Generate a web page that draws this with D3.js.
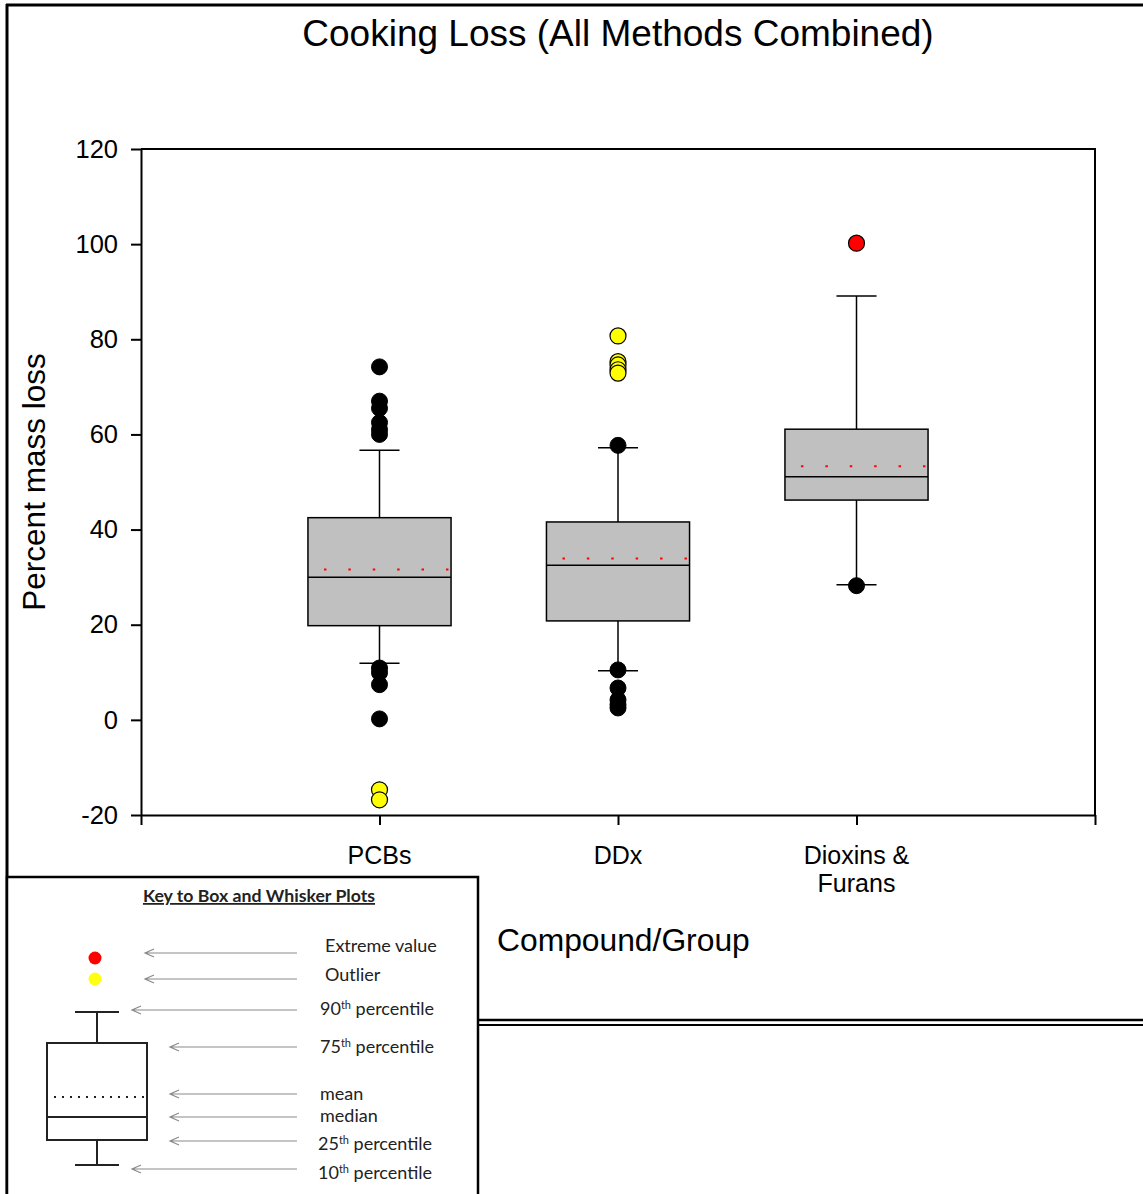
<!DOCTYPE html>
<html>
<head>
<meta charset="utf-8">
<script src="https://cdn.jsdelivr.net/npm/d3@7"></script>
<style>
  body { margin: 0; background: #fff; }
  svg { display: block; font-family: "Liberation Sans", Arial, sans-serif; }
</style>
</head>
<body>
<div id="chart"></div>
<script>
// values
const groups = ["PCBs", "DDx", "Dioxins & Furans"];
const p10 = [11.9, 10.3, 28.4];
const q1 = [19.8, 20.8, 46.2];
const median = [30.0, 32.5, 51.1];
const mean = [31.6, 33.9, 53.3];
const q3 = [42.5, 41.6, 61.1];
const p90 = [56.7, 57.2, 89.1];
// points beyond the whiskers
const beyond = [
  [74.2, 67.0, 65.5, 62.5, 61.0, 60.0, 10.9, 9.9, 7.4, 0.2],
  [57.7, 10.5, 6.7, 4.2, 3.2, 2.5],
  [28.2]
];
const outliers = [
  [-14.7, -16.8],
  [80.7, 75.3, 74.6, 73.6, 72.9],
  []
];
const extremes = [[], [], [100.2]];
const yTicks = [-20, 0, 20, 40, 60, 80, 100, 120];

const keyLabels = [
  ["Extreme value", ""],
  ["Outlier", ""],
  ["90", "th percentile"],
  ["75", "th percentile"],
  ["mean", ""],
  ["median", ""],
  ["25", "th percentile"],
  ["10", "th percentile"]
];

const width = 1143, height = 1194;
const margin = { left: 141, right: 48, top: 149, bottom: 379 };

const svg = d3.select("#chart").append("svg")
  .attr("width", width)
  .attr("height", height);

svg.append("rect").attr("width", width).attr("height", height).attr("fill", "#fff");

const x = d3.scaleLinear().domain([0, 4]).range([margin.left, width - margin.right]);
const y = d3.scaleLinear().domain([-20, 120]).range([height - margin.bottom, margin.top]);

// outer frame
svg.append("line").attr("x1", 6).attr("x2", width).attr("y1", 5).attr("y2", 5)
  .attr("stroke", "#000").attr("stroke-width", 3);
svg.append("line").attr("x1", 7).attr("x2", 7).attr("y1", 4).attr("y2", height)
  .attr("stroke", "#000").attr("stroke-width", 3);
svg.append("line").attr("x1", 477).attr("x2", width).attr("y1", 1020).attr("y2", 1020)
  .attr("stroke", "#000").attr("stroke-width", 2.5);
svg.append("line").attr("x1", 477).attr("x2", width).attr("y1", 1025).attr("y2", 1025)
  .attr("stroke", "#000").attr("stroke-width", 2);

// title
svg.append("text")
  .attr("x", 618).attr("y", 46)
  .attr("text-anchor", "middle")
  .attr("font-size", 37)
  .text("Cooking Loss (All Methods Combined)");

// plot frame (top and right)
const x0 = x.range()[0], x1 = x.range()[1];
const yTop = y(120), yBot = y(-20);
svg.append("path")
  .attr("d", `M${x0},${yTop}H${x1}V${yBot}`)
  .attr("fill", "none").attr("stroke", "#000").attr("stroke-width", 2);

// y axis
const yAxis = svg.append("g")
  .attr("transform", `translate(${x0},0)`)
  .call(d3.axisLeft(y).tickValues(yTicks).tickFormat(d => String(d))
    .tickSize(10).tickPadding(13).tickSizeOuter(0));
yAxis.select(".domain").attr("stroke-width", 2);
yAxis.selectAll(".tick line").attr("stroke-width", 2);
yAxis.selectAll("text").attr("font-size", 25.5).attr("font-family", "Liberation Sans, Arial, sans-serif").attr("fill", "#000");

// x axis
const xAxis = svg.append("g")
  .attr("transform", `translate(0,${yBot})`)
  .call(d3.axisBottom(x).tickValues([0, 1, 2, 3, 4]).tickSize(10).tickSizeOuter(0).tickFormat(""));
xAxis.select(".domain").attr("stroke-width", 2);
xAxis.selectAll(".tick line").attr("stroke-width", 2);

// category labels
const catLabels = svg.append("g").attr("font-size", 25).attr("text-anchor", "middle");
groups.forEach((g, i) => {
  const lines = g === "Dioxins & Furans" ? ["Dioxins &", "Furans"] : [g];
  const t = catLabels.append("text").attr("x", x(i + 1)).attr("y", yBot + 49);
  lines.forEach((l, j) => {
    t.append("tspan").attr("x", x(i + 1)).attr("dy", j === 0 ? 0 : 28).text(l);
  });
});

// axis titles
svg.append("text")
  .attr("x", 497).attr("y", 951)
  .attr("font-size", 31.8)
  .text("Compound/Group");

svg.append("text")
  .attr("transform", `translate(45,${(yTop + yBot) / 2}) rotate(-90)`)
  .attr("text-anchor", "middle")
  .attr("font-size", 31.5)
  .text("Percent mass loss");

// boxes
const boxW = x(0.3) - x(0);
const capW = x(0.084) - x(0);
const boxes = svg.append("g");
groups.forEach((g, i) => {
  const cx = x(i + 1);
  const gb = boxes.append("g");
  // whiskers
  gb.append("line").attr("x1", cx).attr("x2", cx).attr("y1", y(p90[i])).attr("y2", y(q3[i]))
    .attr("stroke", "#000").attr("stroke-width", 1.5);
  gb.append("line").attr("x1", cx).attr("x2", cx).attr("y1", y(q1[i])).attr("y2", y(p10[i]))
    .attr("stroke", "#000").attr("stroke-width", 1.5);
  [p90[i], p10[i]].forEach(v => {
    gb.append("line").attr("x1", cx - capW).attr("x2", cx + capW).attr("y1", y(v)).attr("y2", y(v))
      .attr("stroke", "#000").attr("stroke-width", 1.5);
  });
  gb.append("rect")
    .attr("x", cx - boxW).attr("width", boxW * 2)
    .attr("y", y(q3[i])).attr("height", y(q1[i]) - y(q3[i]))
    .attr("fill", "#c0c0c0").attr("stroke", "#000").attr("stroke-width", 1.5);
  gb.append("line").attr("x1", cx - boxW).attr("x2", cx + boxW)
    .attr("y1", y(median[i])).attr("y2", y(median[i]))
    .attr("stroke", "#000").attr("stroke-width", 1.5);
  gb.append("line").attr("x1", cx - boxW + 16).attr("x2", cx + boxW)
    .attr("y1", y(mean[i])).attr("y2", y(mean[i]))
    .attr("stroke", "#ff0000").attr("stroke-width", 2)
    .attr("stroke-dasharray", "2.5 21.9");
});

// points
const pts = svg.append("g");
groups.forEach((g, i) => {
  const cx = x(i + 1);
  pts.selectAll(null).data(beyond[i]).enter().append("circle")
    .attr("cx", cx).attr("cy", d => y(d)).attr("r", 8)
    .attr("fill", "#000").attr("stroke", "#000").attr("stroke-width", 1);
  pts.selectAll(null).data(outliers[i]).enter().append("circle")
    .attr("cx", cx).attr("cy", d => y(d)).attr("r", 8)
    .attr("fill", "#ffff00").attr("stroke", "#000").attr("stroke-width", 1.2);
  pts.selectAll(null).data(extremes[i]).enter().append("circle")
    .attr("cx", cx).attr("cy", d => y(d)).attr("r", 8)
    .attr("fill", "#ff0000").attr("stroke", "#000").attr("stroke-width", 1.2);
});

// key box
const key = svg.append("g").attr("font-family", "Lato, 'Open Sans', sans-serif");
key.append("rect").attr("x", 7).attr("y", 877).attr("width", 471).attr("height", 330)
  .attr("fill", "#fff").attr("stroke", "#000").attr("stroke-width", 2.5);

key.append("text")
  .attr("x", 259).attr("y", 902)
  .attr("text-anchor", "middle")
  .attr("font-size", 17.7).attr("font-weight", "bold")
  .attr("text-decoration", "underline")
  .attr("fill", "#222")
  .text("Key to Box and Whisker Plots");

key.append("circle").attr("cx", 95).attr("cy", 958).attr("r", 6.5).attr("fill", "#f00");
key.append("circle").attr("cx", 95).attr("cy", 979).attr("r", 6.5).attr("fill", "#ffff10");

// key box glyph
const kb = key.append("g").attr("stroke", "#222").attr("stroke-width", 2).attr("fill", "none");
kb.append("line").attr("x1", 75).attr("x2", 119).attr("y1", 1012).attr("y2", 1012);
kb.append("line").attr("x1", 97).attr("x2", 97).attr("y1", 1012).attr("y2", 1043);
kb.append("rect").attr("x", 47).attr("y", 1043).attr("width", 100).attr("height", 97);
kb.append("line").attr("x1", 54).attr("x2", 147).attr("y1", 1097).attr("y2", 1097)
  .attr("stroke-dasharray", "2 6");
kb.append("line").attr("x1", 47).attr("x2", 147).attr("y1", 1117).attr("y2", 1117);
kb.append("line").attr("x1", 97).attr("x2", 97).attr("y1", 1140).attr("y2", 1165);
kb.append("line").attr("x1", 75).attr("x2", 119).attr("y1", 1165).attr("y2", 1165);

// key arrows and labels
const arrowY = [953, 979, 1010, 1047, 1094, 1117, 1141, 1169];
const arrowX = [145, 145, 132, 170, 170, 170, 170, 132];
const textX = [325, 325, 320, 320, 320, 320, 318, 318];
const textY = [952, 981, 1015, 1053, 1100, 1122, 1150, 1179];
keyLabels.forEach((k, i) => {
  const ax = arrowX[i], ay = arrowY[i];
  key.append("path")
    .attr("d", `M${ax + 9},${ay - 4}L${ax},${ay}L${ax + 9},${ay + 4}M${ax},${ay}H297`)
    .attr("fill", "none").attr("stroke", "#8a8a8a").attr("stroke-width", 1.2);
  const t = key.append("text").attr("x", textX[i]).attr("y", textY[i])
    .attr("font-size", 18).attr("fill", "#222");
  if (k[1]) {
    t.append("tspan").text(k[0]);
    t.append("tspan").attr("dy", -6).attr("font-size", 11).text(k[1].slice(0, 2));
    t.append("tspan").attr("dy", 6).text(k[1].slice(2));
  } else {
    t.text(k[0]);
  }
});
</script>
</body>
</html>
